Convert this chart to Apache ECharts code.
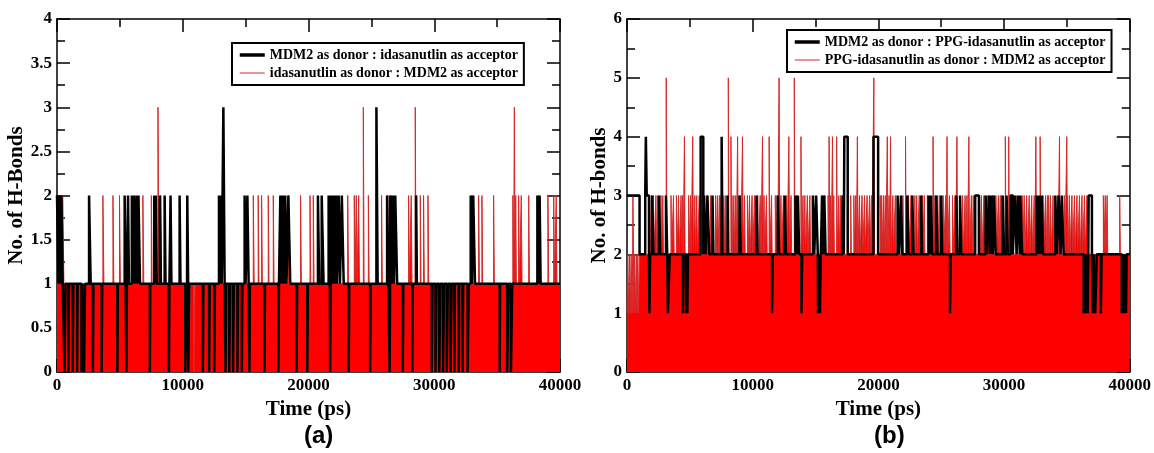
<!DOCTYPE html>
<html>
<head>
<meta charset="utf-8">
<title>H-bonds</title>
<script src="https://cdn.jsdelivr.net/npm/echarts/dist/echarts.min.js"></script>
<style>
  html, body { margin: 0; padding: 0; background: #fff; }
  #chart { width: 1154px; height: 453px; }
</style>
</head>
<body>
<div id="chart"></div>
<script>
// time axis (ps) and y ticks
const T_MAX = 40000
const RES = 10
const xTicks = [0, 10000, 20000, 30000, 40000]
const yMaxA = 4
const yMaxB = 6

const nameBlackA = 'MDM2 as donor : idasanutlin as acceptor'
const nameRedA = 'idasanutlin as donor : MDM2 as acceptor'
const nameBlackB = 'MDM2 as donor : PPG-idasanutlin as acceptor'
const nameRedB = 'PPG-idasanutlin as donor : MDM2 as acceptor'

// each entry: [start ps, end ps, no. of H-bonds] (first one = level held most of the run)
const redA = [
  [0, 40000, 1],
  [10520, 10620, 0], [10880, 10960, 0], [31660, 31740, 0], [32000, 32080, 0],
  [450, 550, 2], [3650, 3730, 2], [4450, 4520, 2], [4970, 5040, 2], [6830, 6900, 2], [7500, 7560, 2],
  [8030, 8100, 3], [8250, 8320, 2], [15610, 15680, 2], [16000, 16060, 2], [16270, 16330, 2],
  [16800, 16860, 2], [17200, 17260, 2], [18400, 18460, 2], [19370, 19430, 2], [20120, 20180, 2],
  [20380, 20440, 2], [23120, 23180, 2], [23640, 23700, 2], [23800, 23860, 2], [23990, 24050, 2],
  [24360, 24420, 3], [24760, 24820, 2], [25810, 25870, 2], [26300, 26360, 2], [26550, 26610, 2],
  [27960, 28020, 2], [28170, 28230, 2], [28490, 28550, 3], [28600, 28660, 2], [28890, 28950, 2],
  [29150, 29210, 2], [29500, 29560, 2], [33000, 33060, 2], [33530, 33590, 2], [33790, 33850, 2],
  [34720, 34780, 2], [36250, 36310, 2], [36370, 36430, 3], [36480, 36530, 2], [36710, 36770, 2],
  [36920, 36980, 2], [37510, 37570, 2], [38300, 38360, 2], [39040, 39100, 2], [39500, 39560, 2],
  [39700, 39760, 2]
]

const blackA = [
  [0, 40000, 1],
  [600, 680, 0], [900, 960, 0], [1250, 1300, 0], [1600, 1640, 0], [1950, 2000, 0], [2150, 2230, 0],
  [2850, 2900, 0], [3550, 3600, 0], [4800, 4840, 0], [5520, 5560, 0], [7380, 7420, 0],
  [8900, 8940, 0], [10200, 10340, 0], [10440, 10520, 0],
  [11600, 11640, 0], [12100, 12140, 0], [12500, 12560, 0], [13400, 13450, 0], [13700, 13760, 0],
  [14000, 14060, 0], [14350, 14400, 0], [14700, 14740, 0], [15300, 15340, 0], [16500, 16540, 0],
  [17600, 17650, 0], [19050, 19100, 0], [19900, 19950, 0], [21720, 21760, 0], [23200, 23240, 0],
  [24900, 24940, 0], [26450, 26490, 0], [27500, 27540, 0], [28250, 28290, 0],
  [29800, 29860, 0], [30100, 30180, 0], [30400, 30480, 0], [30700, 30780, 0], [31000, 31080, 0],
  [31300, 31380, 0], [31600, 31650, 0], [31950, 31990, 0], [32250, 32300, 0], [32650, 32740, 0],
  [35200, 35240, 0], [35800, 35900, 0], [36100, 36200, 0],
  [0, 120, 2], [180, 300, 2], [350, 450, 2], [2550, 2680, 2], [5380, 5450, 2], [5650, 5720, 2],
  [5950, 6050, 2], [6120, 6250, 2], [6330, 6420, 2], [6480, 6600, 2], [7730, 7800, 2], [7860, 7930, 2],
  [8180, 8260, 2], [8560, 8630, 2], [9030, 9100, 2], [9750, 9820, 2], [10360, 10430, 2], [12880, 12950, 2],
  [13020, 13100, 2], [13230, 13330, 3], [14920, 15000, 2], [15140, 15240, 2], [17760, 17850, 2],
  [17950, 18050, 2], [18150, 18250, 2], [18400, 18550, 2], [20750, 20850, 2], [21050, 21200, 2],
  [21600, 21700, 2], [21800, 21900, 2], [22000, 22100, 2], [22200, 22260, 2], [22400, 22500, 2],
  [22650, 22800, 2], [25400, 25500, 3], [26250, 26350, 2], [26500, 26600, 2], [26700, 26800, 2],
  [26900, 27050, 2], [28550, 28620, 2], [32900, 33000, 2], [33100, 33240, 2], [38200, 38280, 2],
  [38380, 38460, 2]
]

const redB = [
  [0, 40000, 2],
  [0, 60, 1], [130, 200, 1], [260, 330, 1], [400, 450, 1], [540, 600, 1], [660, 740, 1], [800, 860, 1], [920, 990, 1],
  [470, 520, 3], [1800, 1860, 3], [1950, 2000, 3], [2100, 2150, 3], [2300, 2360, 3], [2450, 2500, 3],
  [2700, 2750, 3], [2850, 2900, 3], [3500, 3550, 3], [3700, 3750, 3], [3930, 3990, 3],
  [4100, 4160, 3], [4300, 4360, 3], [4420, 4470, 3], [4900, 4950, 3], [5050, 5100, 3],
  [5400, 5450, 3], [5550, 5600, 3], [5750, 5800, 3], [6200, 6260, 3], [6400, 6460, 3], [6650, 6700, 3],
  [7050, 7100, 3], [7200, 7260, 3], [7350, 7400, 3], [7480, 7520, 3], [7700, 7760, 3],
  [7850, 7900, 3], [8350, 8400, 3], [8500, 8560, 3], [8650, 8700, 3], [9000, 9060, 3], [9350, 9400, 3],
  [9580, 9640, 3], [9750, 9800, 3], [9950, 10000, 3], [10150, 10200, 3], [10400, 10450, 3], [10600, 10660, 3],
  [10900, 10950, 3], [11100, 11150, 3], [11500, 11550, 3], [11800, 11860, 3], [11950, 12000, 3],
  [12250, 12300, 3], [12450, 12500, 3], [12700, 12750, 3], [13050, 13100, 3], [13500, 13560, 3],
  [14000, 14060, 3], [14150, 14200, 3], [14350, 14400, 3], [14550, 14600, 3],
  [15550, 15600, 3], [15700, 15760, 3], [16000, 16050, 3], [16200, 16250, 3], [16450, 16500, 3], [16850, 16900, 3],
  [17000, 17060, 3], [17150, 17200, 3], [17800, 17850, 3], [18050, 18100, 3], [18200, 18250, 3],
  [18500, 18550, 3], [18700, 18760, 3], [18900, 18950, 3], [19100, 19160, 3],
  [19300, 19360, 3], [19450, 19500, 3], [20150, 20200, 3], [20250, 20300, 3], [20400, 20460, 3],
  [20550, 20600, 3], [20850, 20900, 3], [21150, 21200, 3], [21350, 21400, 3], [21950, 22000, 3],
  [22400, 22450, 3], [22600, 22650, 3], [22900, 22950, 3], [23050, 23100, 3], [23250, 23300, 3],
  [23500, 23550, 3], [23650, 23700, 3], [23900, 23950, 3], [24500, 24550, 3], [24700, 24750, 3],
  [24850, 24900, 3], [25150, 25200, 3], [25350, 25400, 3], [25650, 25700, 3], [25900, 25950, 3],
  [26100, 26150, 3], [26700, 26760, 3], [26900, 26950, 3],
  [27050, 27100, 3], [27400, 27460, 3], [27550, 27600, 3], [28050, 28100, 3], [28200, 28250, 3],
  [28400, 28460, 3], [28650, 28700, 3], [28800, 28850, 3], [29100, 29150, 3], [29350, 29400, 3],
  [29550, 29600, 3], [29700, 29750, 3], [29800, 29850, 3], [30950, 31000, 3], [31450, 31500, 3],
  [31600, 31660, 3], [31800, 31850, 3], [32000, 32060, 3], [32200, 32260, 3], [32400, 32450, 3],
  [33100, 33150, 3], [33300, 33350, 3], [33450, 33500, 3], [33550, 33600, 3], [33700, 33750, 3],
  [33900, 33950, 3], [34250, 34300, 3], [34800, 34850, 3], [35050, 35100, 3],
  [35200, 35250, 3], [35400, 35460, 3], [35600, 35650, 3], [35800, 35850, 3],
  [36000, 36060, 3], [36200, 36250, 3], [36400, 36450, 3], [36600, 36650, 3], [37900, 37950, 3],
  [38050, 38100, 3], [38200, 38250, 3], [39200, 39250, 3],
  [4570, 4620, 4], [5230, 5280, 4], [8270, 8320, 4], [8800, 8850, 4], [9190, 9240, 4], [10780, 10830, 4],
  [11310, 11360, 4], [12880, 12930, 4], [13840, 13890, 4], [16080, 16130, 4], [16350, 16400, 4],
  [16680, 16730, 4], [18330, 18380, 4], [20710, 20760, 4], [20970, 21020, 4], [22160, 22210, 4],
  [24350, 24400, 4], [25460, 25510, 4], [26250, 26300, 4], [27200, 27250, 4], [30100, 30150, 4],
  [30370, 30420, 4], [32530, 32580, 4], [32870, 32920, 4], [34410, 34460, 4], [34990, 35040, 4],
  [3120, 3170, 5], [8060, 8110, 5], [12100, 12150, 5], [13310, 13360, 5], [19640, 19690, 5]
]

const blackB = [
  [0, 40000, 2],
  [1780, 1840, 1], [3250, 3400, 1], [4450, 4500, 1], [4700, 4760, 1], [4800, 4850, 1], [11540, 11600, 1],
  [13880, 13940, 1], [15200, 15300, 1], [15350, 15420, 1], [25700, 25760, 1], [36330, 36400, 1],
  [36500, 36560, 1], [36650, 36700, 1], [37050, 37120, 1], [37250, 37380, 1], [37700, 37760, 1],
  [39360, 39420, 1], [39550, 39600, 1], [39700, 39760, 1],
  [0, 1000, 3], [1450, 1750, 3], [2000, 2100, 3], [2550, 2650, 3], [3100, 3200, 3], [6100, 6250, 3],
  [6400, 6550, 3], [6800, 6880, 3], [8000, 8050, 3], [8950, 9050, 3], [10300, 10380, 3], [12000, 12100, 3],
  [12550, 12650, 3], [13400, 13500, 3], [13600, 13700, 3], [14790, 14900, 3], [15050, 15180, 3],
  [15520, 15600, 3], [15700, 15800, 3], [17150, 17250, 3], [21530, 21650, 3], [21800, 21900, 3],
  [22300, 22400, 3], [22700, 22800, 3], [23400, 23480, 3], [24000, 24100, 3], [24200, 24280, 3],
  [24600, 24700, 3], [25000, 25080, 3], [26200, 26300, 3], [26500, 26600, 3], [27700, 28000, 3],
  [28530, 28650, 3], [28800, 28900, 3], [29000, 29100, 3], [29200, 29330, 3], [29900, 30000, 3],
  [30200, 30300, 3], [30520, 30700, 3], [30850, 31000, 3], [31100, 31250, 3], [31300, 31440, 3],
  [32600, 32700, 3], [32800, 32900, 3], [33000, 33100, 3], [34080, 34200, 3], [34350, 34500, 3],
  [34600, 34740, 3], [36730, 36990, 3],
  [1500, 1570, 4], [5860, 6070, 4], [7530, 7600, 4], [17290, 17560, 4], [19610, 19980, 4]
]

// turn [start, end, value] readings into step points
const buildSteps = (events) => {
  const n = T_MAX / RES
  const vals = new Array(n).fill(0)
  events.forEach(([s, e, v]) => {
    for (let i = Math.round(s / RES); i < Math.round(e / RES) && i < n; i++) vals[i] = v
  })
  const pts = []
  for (let i = 0; i < n; i++) {
    if (i === 0 || vals[i] !== vals[i - 1]) pts.push([i * RES, vals[i]])
  }
  pts.push([T_MAX, vals[n - 1]])
  return pts
}

const serif = 'Liberation Serif'
const labelStyle = { fontFamily: serif, fontWeight: 'bold', fontSize: 17, color: '#000' }
const nameStyle = { fontFamily: serif, fontWeight: 'bold', fontSize: 21, color: '#000' }
const blk = { color: '#000', width: 1.5 }

const makeX = (gi, pos, showLabel) => ({
  type: 'value', gridIndex: gi, position: pos, min: 0, max: T_MAX, interval: xTicks[1] - xTicks[0],
  name: showLabel ? 'Time (ps)' : '', nameLocation: 'middle', nameGap: 19, nameTextStyle: nameStyle,
  axisLine: { show: true, onZero: false, lineStyle: blk },
  axisTick: { show: true, inside: true, length: 13, lineStyle: blk },
  minorTick: { show: true, splitNumber: 2, length: 8, lineStyle: blk },
  axisLabel: { show: showLabel, margin: 5, formatter: (v) => String(v), ...labelStyle },
  splitLine: { show: false }
})

const makeY = (gi, pos, showLabel, max, step, title, gap) => ({
  type: 'value', gridIndex: gi, position: pos, min: 0, max: max, interval: step,
  name: showLabel ? title : '', nameLocation: 'middle', nameGap: gap, nameTextStyle: nameStyle,
  axisLine: { show: true, onZero: false, lineStyle: blk },
  axisTick: { show: true, inside: true, length: 13, lineStyle: blk },
  minorTick: { show: true, splitNumber: 2, length: 8, lineStyle: blk },
  axisLabel: { show: showLabel, margin: 5, formatter: (v) => String(v), ...labelStyle },
  splitLine: { show: false }
})

const makeLegend = (left, top, names) => ({
  left: left, top: top, orient: 'vertical',
  padding: [5, 6], itemGap: 4, itemWidth: 25, itemHeight: 14,
  borderColor: '#000', borderWidth: 2, borderRadius: 0, backgroundColor: '#fff',
  textStyle: { fontFamily: serif, fontWeight: 'bold', fontSize: 14, color: '#000' },
  itemStyle: { opacity: 0 },
  selectedMode: false,
  data: [
    { name: names[0], lineStyle: { width: 3.5, color: '#000' } },
    { name: names[1], lineStyle: { width: 1, color: '#d42a2a' } }
  ]
})

const redSeries = (name, xi, yi, events) => ({
  name: name, type: 'line', step: 'end', xAxisIndex: xi, yAxisIndex: yi,
  data: buildSteps(events), symbol: 'none', z: 2, silent: true,
  lineStyle: { color: '#d42a2a', width: 1 },
  itemStyle: { color: '#ff0000' },
  areaStyle: { color: '#ff0000', opacity: 1 }
})

const blackSeries = (name, xi, yi, events) => ({
  name: name, type: 'line', step: 'end', xAxisIndex: xi, yAxisIndex: yi,
  data: buildSteps(events), symbol: 'none', z: 3, silent: true,
  lineStyle: { color: '#000', width: 2.5 },
  itemStyle: { color: '#000' }
})

const chartInstance = echarts.init(document.getElementById('chart'), null, { renderer: 'canvas' })
chartInstance.setOption({
  animation: false,
  backgroundColor: '#fff',
  title: [
    { text: '(a)', left: 299, top: 419, textStyle: { fontFamily: 'Liberation Sans', fontWeight: 'bold', fontSize: 24, color: '#000' } },
    { text: '(b)', left: 869, top: 419, textStyle: { fontFamily: 'Liberation Sans', fontWeight: 'bold', fontSize: 24, color: '#000' } }
  ],
  grid: [
    { left: 57, top: 19, width: 503, height: 353, containLabel: false },
    { left: 627, top: 19, width: 505, height: 353, containLabel: false }
  ],
  xAxis: [makeX(0, 'bottom', true), makeX(0, 'top', false), makeX(1, 'bottom', true), makeX(1, 'top', false)],
  yAxis: [
    makeY(0, 'left', true, yMaxA, 0.5, 'No. of H-Bonds', 27),
    makeY(0, 'right', false, yMaxA, 0.5, '', 0),
    makeY(1, 'left', true, yMaxB, 1, 'No. of H-bonds', 13),
    makeY(1, 'right', false, yMaxB, 1, '', 0)
  ],
  legend: [
    makeLegend(232, 43, [nameBlackA, nameRedA]),
    makeLegend(787, 30, [nameBlackB, nameRedB])
  ],
  series: [
    redSeries(nameRedA, 0, 0, redA),
    blackSeries(nameBlackA, 0, 0, blackA),
    redSeries(nameRedB, 2, 2, redB),
    blackSeries(nameBlackB, 2, 2, blackB)
  ]
})
</script>
</body>
</html>
